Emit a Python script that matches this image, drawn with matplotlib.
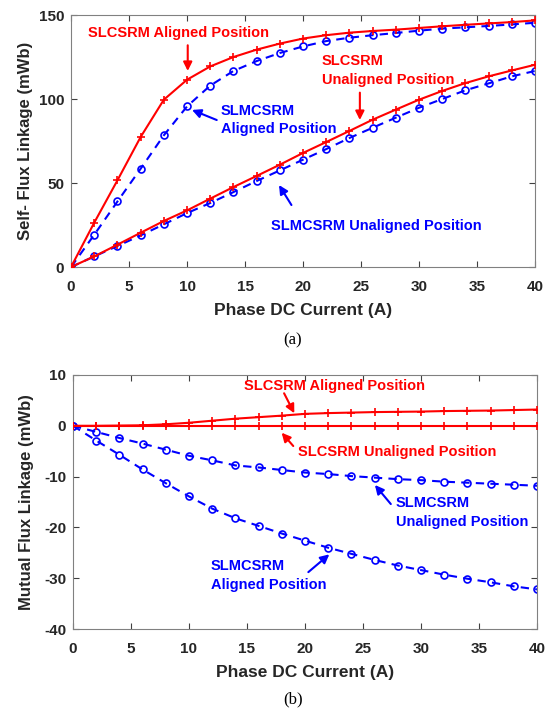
import numpy as np
import matplotlib
matplotlib.use("Agg")
import matplotlib.pyplot as plt

plt.rcParams['font.family'] = ['Liberation Sans', 'DejaVu Sans']
plt.rcParams['axes.unicode_minus'] = False

# phase DC current (A)
current = [0, 2, 4, 6, 8, 10, 12, 14, 16, 18, 20, 22, 24, 26, 28, 30, 32, 34, 36, 38, 40]

# (a) self flux linkage (mWb)
self_slc_aligned = [0, 26.4, 51.6, 77.4, 99.6, 111.5, 119.4, 125.0, 129.4, 133.0, 136.0,
                    138.0, 139.5, 140.5, 141.3, 142.3, 143.3, 144.2, 145.0, 145.8, 146.8]
self_slmc_aligned = [0, 19.2, 39.0, 58.5, 78.4, 95.6, 108.0, 116.7, 122.6, 127.4, 131.3,
                     134.5, 136.5, 138.0, 139.3, 140.7, 141.9, 142.7, 143.5, 144.4, 145.4]
self_slc_unaligned = [0, 6.3, 13.3, 20.4, 27.4, 33.7, 40.7, 47.6, 54.2, 60.9, 67.9,
                      74.4, 81.0, 87.7, 93.7, 99.6, 104.8, 109.5, 113.5, 117.0, 120.4]
self_slmc_unaligned = [0, 6.3, 12.5, 18.8, 25.4, 32.1, 38.1, 44.6, 51.2, 57.5, 63.9,
                       70.2, 76.8, 82.9, 88.9, 94.8, 100.0, 105.2, 109.3, 113.5, 116.7]

# (b) mutual flux linkage (mWb)
mut_slc_aligned = [0, 0, 0.05, 0.1, 0.3, 0.6, 1.0, 1.4, 1.7, 2.0, 2.35,
                   2.5, 2.6, 2.7, 2.75, 2.8, 2.9, 2.95, 3.0, 3.1, 3.2]
mut_slc_unaligned = [0, 0, 0, 0, 0, 0, 0, 0, 0, 0, 0,
                     0, 0, 0, 0, 0, 0, 0, 0, 0, 0]
mut_slmc_unaligned = [0, -1.2, -2.4, -3.5, -4.7, -5.9, -6.8, -7.8, -8.2, -8.7, -9.2,
                      -9.5, -9.9, -10.2, -10.5, -10.7, -11.0, -11.2, -11.4, -11.6, -11.8]
mut_slmc_aligned = [0, -2.9, -5.7, -8.6, -11.3, -13.9, -16.3, -18.2, -19.7, -21.2, -22.6,
                    -24.0, -25.2, -26.4, -27.5, -28.4, -29.3, -30.1, -30.8, -31.6, -32.2]

RED = '#ff0000'
BLUE = '#0000ff'
TXT = '#262626'


def style_axes(ax, ylim, yticks, ylabel):
    ax.set_xlim(0, 40)
    ax.set_ylim(*ylim)
    ax.set_xticks(np.arange(0, 41, 5))
    ax.set_yticks(yticks)
    ax.tick_params(direction='in', length=4, width=0.8, top=True, right=True,
                   colors='#404040', labelcolor=TXT, labelsize=11)
    ax.tick_params(axis='x', pad=9.5)
    ax.tick_params(axis='y', pad=5)
    for lab in ax.get_xticklabels() + ax.get_yticklabels():
        lab.set_fontweight('bold')
    for sp in ax.spines.values():
        sp.set_color('#808080')
        sp.set_linewidth(0.8)
    ax.set_xlabel('Phase DC Current (A)', fontsize=12.5, fontweight='bold', color=TXT, labelpad=6)
    ax.set_ylabel(ylabel, fontsize=12, fontweight='bold', color=TXT)
    ax.yaxis.set_label_coords(-0.083, 0.5)


def red(ax, y):
    ax.plot(current, y, '-', color=RED, lw=1.5, marker='+', ms=6, mew=1.2, zorder=3)


def blue(ax, y):
    ax.plot(current, y, '--', color=BLUE, lw=1.5, dashes=(4, 3), marker='o', ms=5,
            mfc='none', mew=1.2, zorder=2)


def note(ax, text, xy, xytext, tip, color):
    ax.text(xy[0], xy[1], text, color=color, fontsize=10.5, fontweight='bold',
            ha='left', va='center', linespacing=1.45)
    ax.annotate('', xy=tip, xytext=xytext,
                arrowprops=dict(arrowstyle='-|>', color=color, lw=1.5, mutation_scale=13,
                                shrinkA=0, shrinkB=0))


fig = plt.figure(figsize=(5.55, 7.09), dpi=100)

# (a)
ax1 = fig.add_axes([0.128, 0.6234, 0.836, 0.3554])
red(ax1, self_slc_aligned)
blue(ax1, self_slmc_aligned)
red(ax1, self_slc_unaligned)
blue(ax1, self_slmc_unaligned)
style_axes(ax1, (0, 150), [0, 50, 100, 150], 'Self- Flux Linkage (mWb)')
note(ax1, 'SLCSRM Aligned Position', (1.5, 139.3), (10.06, 132), (10.06, 116.7), RED)
note(ax1, 'SLMCSRM\nAligned Position', (12.9, 87.5), (12.56, 87.5), (10.43, 93.5), BLUE)
note(ax1, 'SLCSRM\nUnaligned Position', (21.6, 117.2), (24.9, 103.8), (24.9, 87.5), RED)
note(ax1, 'SLMCSRM Unaligned Position', (17.2, 24.4), (19.0, 36.9), (17.93, 48.8), BLUE)

# (b)
ax2 = fig.add_axes([0.1315, 0.1128, 0.836, 0.3583])
red(ax2, mut_slc_aligned)
red(ax2, mut_slc_unaligned)
blue(ax2, mut_slmc_unaligned)
blue(ax2, mut_slmc_aligned)
style_axes(ax2, (-40, 10), [-40, -30, -20, -10, 0, 10], 'Mutual Flux Linkage (mWb)')
note(ax2, 'SLCSRM Aligned Position', (14.77, 7.9), (18.2, 6.4), (19.08, 2.46), RED)
note(ax2, 'SLCSRM Unaligned Position', (19.37, -5.1), (18.99, -3.98), (17.99, -1.36), RED)
note(ax2, 'SLMCSRM\nUnaligned Position', (27.84, -17.05), (27.4, -15.4), (26.03, -11.65), BLUE)
note(ax2, 'SLMCSRM\nAligned Position', (11.9, -29.45), (20.29, -28.8), (22.1, -25.3), BLUE)

fig.text(0.528, 1 - 340 / 709, '(a)', ha='center', va='center', fontsize=12,
         family='Liberation Serif', color='black')
fig.text(0.528, 1 - 699 / 709, '(b)', ha='center', va='center', fontsize=12,
         family='Liberation Serif', color='black')

fig.savefig('out.png', dpi=100)
